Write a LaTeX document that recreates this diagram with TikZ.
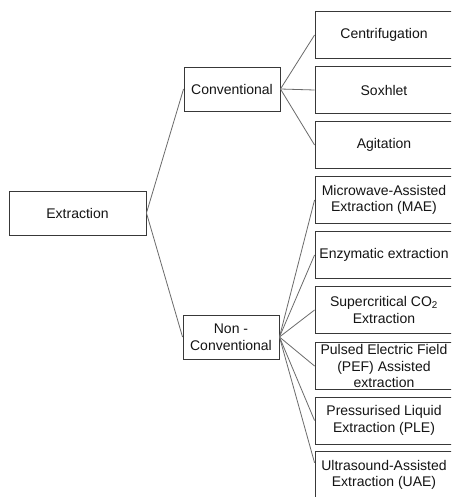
\documentclass[tikz,border=0pt]{standalone}
\usepackage{fontspec}
\setmainfont{Liberation Sans}
\begin{document}
\begin{tikzpicture}[x=1pt,y=-1pt,
  box/.style={draw=black!78, line width=0.9pt, fill=white, align=center, inner sep=0pt,
    font=\fontsize{14}{16.5}\selectfont, text=black!92},
  rbox/.style={box, minimum width=138pt, minimum height=47pt},
  mbox/.style={box, minimum width=96pt, minimum height=44pt},
  link/.style={draw=black!58, line width=0.8pt}]
\clip (0,0) rectangle (451,497);
\fill[white] (0,0) rectangle (451,497);
\node[box, minimum width=137pt, minimum height=44pt] (ext) at (77.5,213) {Extraction};
\node[mbox] (conv) at (232,89) {Conventional};
\node[mbox] (nonc) at (231,337) {Non -\\Conventional};
\node[rbox] (cent) at (384,35) {Centrifugation};
\node[rbox] (sox) at (384,90) {Soxhlet};
\node[rbox] (agit) at (384,145) {Agitation};
\node[rbox] (mae) at (384,200) {Microwave-Assisted\\Extraction (MAE)};
\node[rbox] (enz) at (384,255) {Enzymatic extraction};
\node[rbox] (sc) at (384,310) {Supercritical CO\textsubscript{2}\\Extraction};
\node[rbox] (pef) at (384,366) {Pulsed Electric Field\\(PEF) Assisted\\extraction};
\node[rbox] (ple) at (384,420.5) {Pressurised Liquid\\Extraction (PLE)};
\node[rbox] (uae) at (384,475) {Ultrasound-Assisted\\Extraction (UAE)};
\draw[link] (ext.east) -- (conv.west);
\draw[link] (ext.east) -- (nonc.west);
\foreach \t in {cent,sox,agit} \draw[link] (conv.east) -- (\t.west);
\foreach \t in {mae,enz,sc,pef,ple} \draw[link] (nonc.east) -- (\t.west);
\draw[link] (nonc.east) -- (uae.170);
\end{tikzpicture}
\end{document}
